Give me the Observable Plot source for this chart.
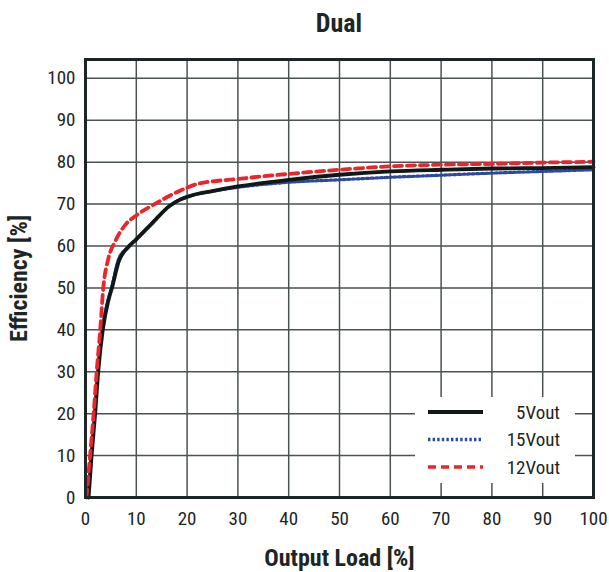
<!DOCTYPE html>
<html>
<head>
<meta charset="utf-8">
<script src="https://cdn.jsdelivr.net/npm/d3@7"></script>
<script src="https://cdn.jsdelivr.net/npm/@observablehq/plot@0.6"></script>
<style>
  body { margin: 0; background: #fff; font-family: "Roboto Condensed", "Liberation Sans Narrow", "Arial Narrow", Roboto, sans-serif; }
  svg text, #title { font-family: "Roboto Condensed", "Liberation Sans Narrow", "Arial Narrow", Roboto, sans-serif; }
  #wrap { position: relative; width: 609px; height: 572px; }
  #title { position: absolute; left: 85px; width: 508px; top: 8px; line-height: 30px; text-align: center; font-size: 26px; font-weight: bold; color: #1c2626; }
  #chart { position: absolute; left: 0; top: 50px; }
  #legend { position: absolute; left: 415px; top: 397px; width: 160px; height: 86px; background: #fff; }
  [aria-label="x-axis label"] text, [aria-label="y-axis label"] text { font-weight: bold; font-size: 24px; fill: #1c2626; }
</style>
</head>
<body>
<div id="wrap">
  <div id="title">Dual</div>
  <div id="chart"></div>
  <div id="legend"></div>
</div>
<script>
const seriesNames = ["5Vout", "15Vout", "12Vout"];
const load5 = [0.6, 1.2, 1.9, 2.5, 3.4, 4.5, 5.2, 6.6, 8.3, 10, 13, 16.6, 18.5, 21, 25, 30, 40, 50, 60, 70, 80, 90, 100];
const eff5 = [0, 10, 20, 30, 40, 47, 50, 56.5, 59.6, 61.6, 65.3, 69.6, 71, 72.1, 73.1, 74.2, 75.8, 77, 77.8, 78.2, 78.5, 78.6, 78.8];
const load15 = [0.5, 1.1, 1.8, 2.4, 3.3, 4.4, 5.1, 6.4, 8.2, 10, 13, 16.6, 18.5, 21, 25, 30, 40, 50, 60, 70, 80, 90, 100];
const eff15 = [0, 10, 20, 30, 40, 47, 50, 56.5, 59.6, 61.6, 65.3, 69.6, 71, 72.1, 73.1, 74, 75.2, 75.8, 76.4, 76.9, 77.4, 77.8, 78.2];
const load12 = [0.2, 0.9, 1.6, 2.2, 2.9, 3.5, 4.5, 5.8, 7.8, 10, 13.6, 18.6, 22, 30, 40, 50, 60, 70, 80, 90, 100];
const eff12 = [0, 10, 20, 30, 40, 50, 57, 61, 65, 67.3, 70, 73.2, 74.8, 76, 77.2, 78.2, 79, 79.4, 79.6, 79.9, 80.1];
const xTicks = [0, 10, 20, 30, 40, 50, 60, 70, 80, 90, 100];
const yTicks = [0, 10, 20, 30, 40, 50, 60, 70, 80, 90, 100];

const colors = {"5Vout": "#111818", "15Vout": "#2b4a9e", "12Vout": "#e8262b"};
const dashes = {"5Vout": null, "15Vout": "2.4,2.2", "12Vout": "8,5"};

const d5 = load5.map((x, i) => ({x, y: eff5[i]}));
const d15 = load15.map((x, i) => ({x, y: eff15[i]}));
const d12 = load12.map((x, i) => ({x, y: eff12[i]}));

const font = '"Roboto Condensed", "Liberation Sans Narrow", "Arial Narrow", Roboto, sans-serif';
const chart = Plot.plot({
  width: 609, height: 522,
  marginTop: 9, marginBottom: 75, marginLeft: 85, marginRight: 16,
  style: {fontFamily: font, fontSize: "19px", color: "#1c2626", background: "transparent"},
  x: {domain: [0, 100], ticks: xTicks, tickSize: 0, tickPadding: 14, label: "Output Load [%]", labelAnchor: "center", labelArrow: "none", labelOffset: 68},
  y: {domain: [0, 104.5], ticks: yTicks, tickSize: 0, tickPadding: 10, label: "Efficiency [%]", labelAnchor: "center", labelArrow: "none", labelOffset: 76},
  marks: [
    Plot.gridX(xTicks, {stroke: "#4a5252", strokeOpacity: 1, strokeWidth: 1.5}),
    Plot.gridY(yTicks, {stroke: "#4a5252", strokeOpacity: 1, strokeWidth: 1.5}),
    Plot.line(d15, {x: "x", y: "y", stroke: colors["15Vout"], strokeWidth: 3.2, strokeDasharray: dashes["15Vout"], curve: "monotone-x"}),
    Plot.line(d5, {x: "x", y: "y", stroke: colors["5Vout"], strokeWidth: 3.8, curve: "monotone-x"}),
    Plot.line(d12, {x: "x", y: "y", stroke: colors["12Vout"], strokeWidth: 3.8, strokeDasharray: dashes["12Vout"], curve: "monotone-x"}),
    Plot.frame({stroke: "#1c2626", strokeWidth: 3})
  ]
});
document.getElementById("chart").appendChild(chart);

// legend
const lg = d3.select("#legend").append("svg").attr("width", 160).attr("height", 86);
seriesNames.forEach((name, i) => {
  const y = 15 + i * 27.5;
  lg.append("line").attr("x1", 13).attr("x2", 68).attr("y1", y).attr("y2", y)
    .attr("stroke", colors[name]).attr("stroke-width", name === "5Vout" ? 4 : 3.5)
    .attr("stroke-dasharray", dashes[name]);
  lg.append("text").attr("x", 145).attr("y", y).attr("dy", "0.35em").attr("text-anchor", "end")
    .attr("font-size", 19).attr("fill", "#1c2626")
    .text(name);
});
</script>
</body>
</html>
